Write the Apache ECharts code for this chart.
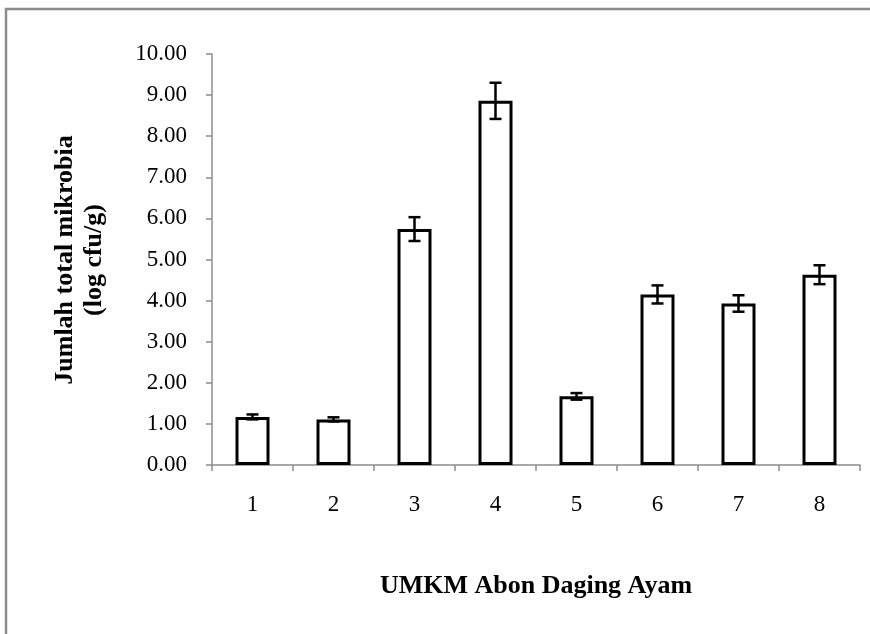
<!DOCTYPE html>
<html><head><meta charset="utf-8">
<script src="https://cdn.jsdelivr.net/npm/echarts@6/dist/echarts.min.js"></script>
<style>html,body{margin:0;padding:0;background:#fff}#c{width:870px;height:634px}</style>
</head><body><div id="c"></div>
<script>
var categories = ['1','2','3','4','5','6','7','8'];
var values = [1.17, 1.11, 5.74, 8.86, 1.67, 4.15, 3.93, 4.63];
var errors = [0.06, 0.05, 0.29, 0.44, 0.08, 0.22, 0.20, 0.23];
var yTicks = [0, 10, 1];

var chart = echarts.init(document.getElementById('c'));
var font = '"Liberation Serif", "Times New Roman", serif';
var errData = values.map(function (v, i) { return [i, v - errors[i], v + errors[i]]; });

chart.setOption({
  animation: false,
  backgroundColor: '#fff',
  graphic: [{
    type: 'rect', silent: true,
    shape: { x: 6, y: 9, width: 900, height: 700 },
    style: { fill: 'none', stroke: '#8c8c8c', lineWidth: 2.5 }
  }, {
    type: 'text', silent: true, rotation: Math.PI / 2, x: 80, y: 260,
    style: { text: 'Jumlah total mikrobia\n(log cfu/g)', font: 'bold 26px ' + font, fill: '#000', align: 'center', verticalAlign: 'middle', lineHeight: 29 }
  }],
  grid: { left: 212, right: 10, top: 54, bottom: 169 },
  xAxis: {
    type: 'category', data: categories,
    name: 'UMKM Abon Daging Ayam', nameLocation: 'middle', nameGap: 108,
    nameTextStyle: { fontFamily: font, fontWeight: 'bold', fontSize: 26, color: '#000' },
    axisLine: { lineStyle: { color: '#8c8c8c', width: 1.5 } },
    axisTick: { show: true, alignWithLabel: false, length: 6, lineStyle: { color: '#8c8c8c', width: 1.5 } },
    axisLabel: { fontFamily: font, fontSize: 23, color: '#000', margin: 28 }
  },
  yAxis: {
    type: 'value', min: yTicks[0], max: yTicks[1], interval: yTicks[2],
    axisLine: { show: true, lineStyle: { color: '#8c8c8c', width: 1.5 } },
    axisTick: { show: true, length: 6, lineStyle: { color: '#8c8c8c', width: 1.5 } },
    splitLine: { show: false },
    axisLabel: { fontFamily: font, fontSize: 23, color: '#000', margin: 25, formatter: function (v) { return v.toFixed(2); } }
  },
  series: [{
    type: 'bar', data: values, barWidth: 34,
    itemStyle: { color: '#fff', borderColor: '#000', borderWidth: 3 },
    z: 2
  }, {
    type: 'custom', data: errData, z: 3,
    renderItem: function (params, api) {
      var x = api.value(0);
      var lo = api.coord([x, api.value(1)]);
      var hi = api.coord([x, api.value(2)]);
      var hw = 6;
      var st = { stroke: '#000', lineWidth: 2.5 };
      return {
        type: 'group', children: [
          { type: 'line', shape: { x1: lo[0], y1: lo[1], x2: hi[0], y2: hi[1] }, style: st },
          { type: 'line', shape: { x1: lo[0] - hw, y1: lo[1], x2: lo[0] + hw, y2: lo[1] }, style: st },
          { type: 'line', shape: { x1: hi[0] - hw, y1: hi[1], x2: hi[0] + hw, y2: hi[1] }, style: st }
        ]
      };
    }
  }]
});
</script></body></html>
